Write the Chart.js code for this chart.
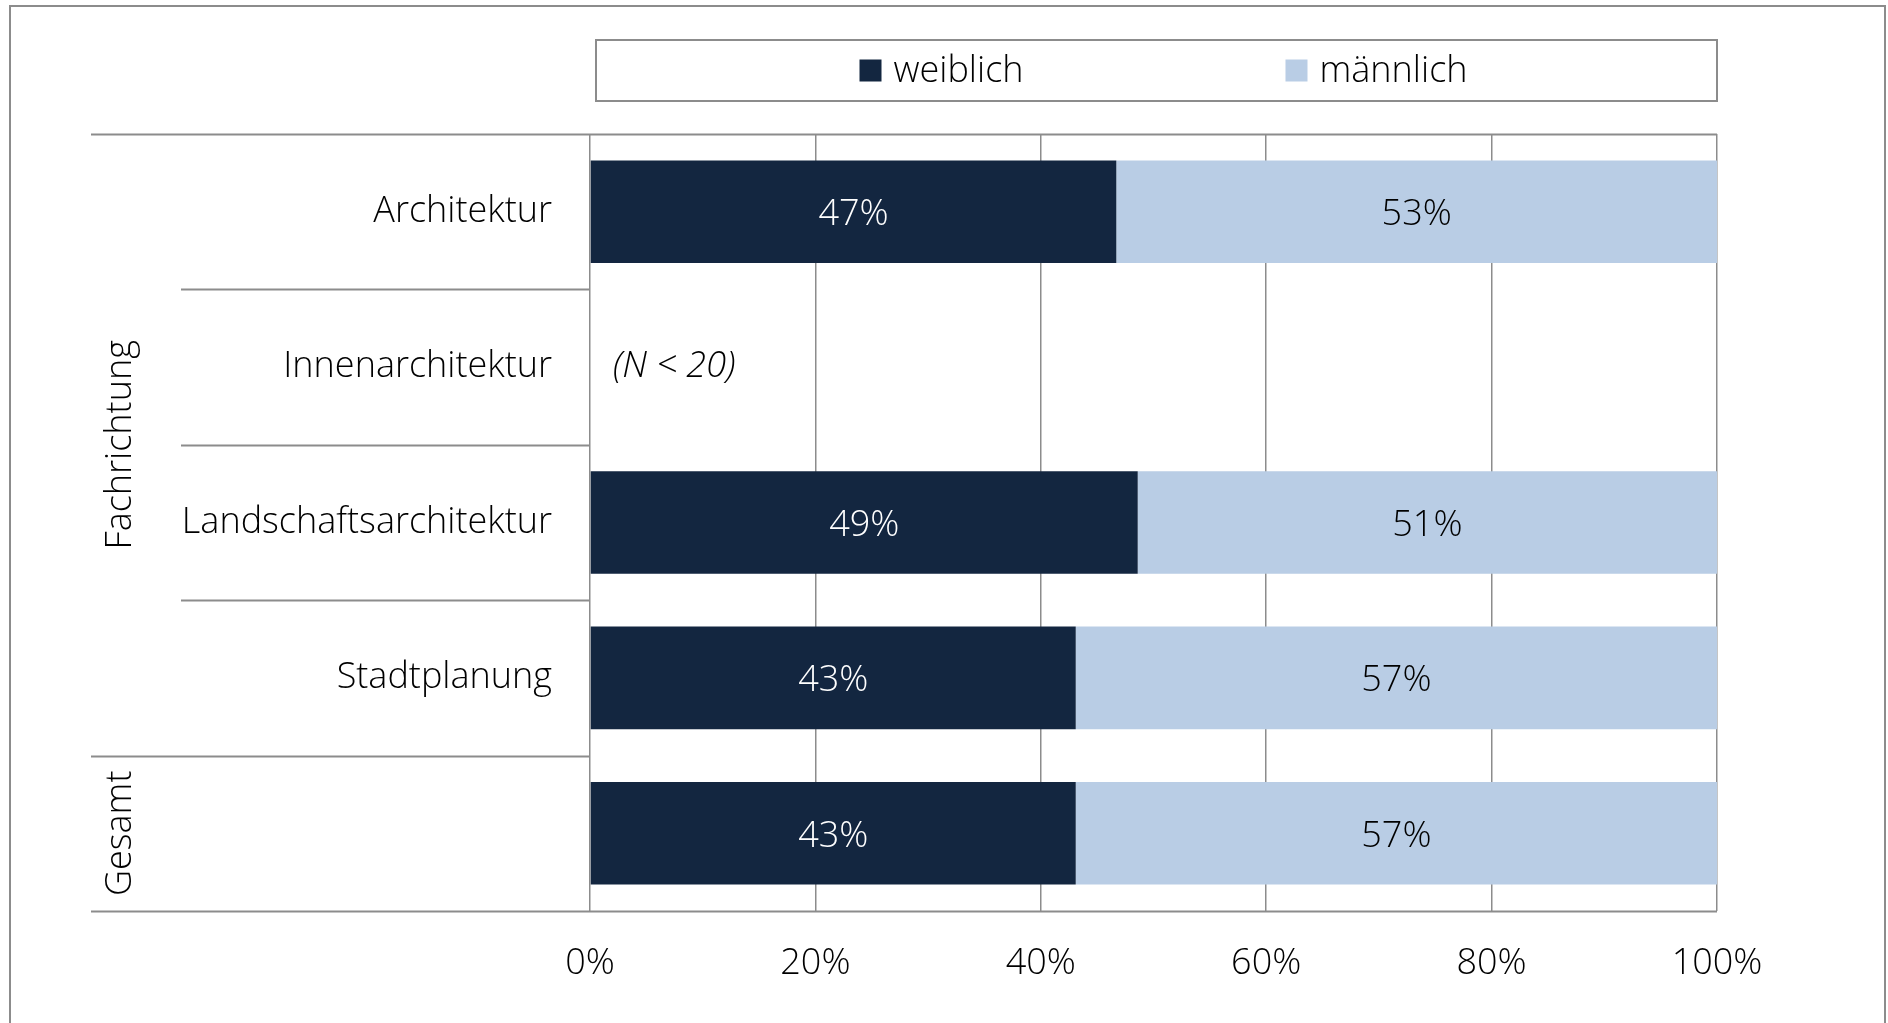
<!DOCTYPE html>
<html>
<head>
<meta charset="utf-8">
<script src="https://cdn.jsdelivr.net/npm/chart.js@4.4.1/dist/chart.umd.min.js"></script>
<style>
  html, body { margin: 0; padding: 0; background: #ffffff; }
  #wrap { width: 1888px; height: 1023px; }
</style>
</head>
<body>
<div id="wrap"><canvas id="barChart" width="1888" height="1023"></canvas></div>
<script>
// data
var categories = ['Architektur', 'Innenarchitektur', 'Landschaftsarchitektur', 'Stadtplanung', 'Gesamt'];
var groupLabels = ['Fachrichtung', 'Gesamt'];
var groupSizes = [4, 1];
var weiblich = [46.7, null, 48.6, 43.1, 43.1];
var maennlich = [53.3, null, 51.4, 56.9, 56.9];
var seriesNames = ['weiblich', 'männlich'];
var xTicks = [0, 20, 40, 60, 80, 100];
var noteText = '(N < 20)';

var fontFamily = "'Open Sans', 'Noto Sans', sans-serif";
var fontSize = 36;
var lineColor = '#8c8c8c';
var darkBlue = '#132640';
var lightBlue = '#b9cde5';

var decorPlugin = {
  id: 'decor',
  beforeDraw: function(chart) {
    var ctx = chart.ctx;
    ctx.save();
    ctx.fillStyle = '#ffffff';
    ctx.fillRect(0, 0, chart.width, chart.height);
    ctx.strokeStyle = lineColor;
    ctx.lineWidth = 2;
    ctx.strokeRect(10, 6, chart.width - 13, chart.height + 20);
    ctx.restore();
  },
  afterDraw: function(chart) {
    var ctx = chart.ctx;
    var area = chart.chartArea;
    var yScale = chart.scales.y;
    var xScale = chart.scales.x;
    var half = (yScale.getPixelForValue(1) - yScale.getPixelForValue(0)) / 2;
    ctx.save();

    // horizontal separators on the left side
    ctx.strokeStyle = lineColor;
    ctx.lineWidth = 2;
    var groupStarts = [];
    var idx = 0;
    groupSizes.forEach(function(n) { groupStarts.push(idx); idx += n; });
    for (var i = 0; i <= categories.length; i++) {
      var y = Math.round(yScale.getPixelForValue(i) - half) + 0.5;
      var isGroupEdge = groupStarts.indexOf(i) >= 0 || i === categories.length;
      var x0 = isGroupEdge ? 91 : 181;
      var x1 = (i === 0 || i === categories.length) ? area.right : area.left;
      ctx.beginPath();
      ctx.moveTo(x0, y);
      ctx.lineTo(x1, y);
      ctx.stroke();
    }

    // group labels, rotated
    ctx.fillStyle = '#000000';
    ctx.font = '300 ' + fontSize + 'px ' + fontFamily;
    ctx.textAlign = 'center';
    ctx.textBaseline = 'middle';
    groupLabels.forEach(function(lbl, g) {
      var first = groupStarts[g];
      var last = first + groupSizes[g] - 1;
      var cy = (yScale.getPixelForValue(first) + yScale.getPixelForValue(last)) / 2;
      ctx.save();
      ctx.translate(121, cy);
      ctx.rotate(-Math.PI / 2);
      ctx.fillText(lbl, 0, 0);
      ctx.restore();
    });

    // value labels inside the bars
    chart.data.datasets.forEach(function(ds, d) {
      var meta = chart.getDatasetMeta(d);
      meta.data.forEach(function(bar, j) {
        var v = ds.data[j];
        if (v === null || v === undefined) return;
        var cx = (bar.x + bar.base) / 2;
        ctx.fillStyle = d === 0 ? '#ffffff' : '#000000';
        ctx.fillText(Math.round(v) + '%', cx, bar.y + 3);
      });
    });

    // note for the row without data
    weiblich.forEach(function(v, j) {
      if (v === null) {
        ctx.font = 'italic 300 ' + fontSize + 'px ' + fontFamily;
        ctx.textAlign = 'left';
        ctx.fillStyle = '#000000';
        ctx.fillText(noteText, xScale.getPixelForValue(0) + 23, yScale.getPixelForValue(j));
      }
    });

    // legend in a framed box
    var boxL = area.left + 6, boxR = area.right, boxT = 40, boxB = 101;
    ctx.strokeStyle = lineColor;
    ctx.lineWidth = 2;
    ctx.strokeRect(boxL, boxT, boxR - boxL, boxB - boxT);
    ctx.font = '300 ' + fontSize + 'px ' + fontFamily;
    ctx.textAlign = 'left';
    var sw = 22, txtGap = 12, itemGap = 262;
    var widths = chart.data.datasets.map(function(ds) { return sw + txtGap + ctx.measureText(ds.label).width; });
    var total = widths.reduce(function(a, b) { return a + b; }, 0) + itemGap * (widths.length - 1);
    var lx = (boxL + boxR) / 2 + 7 - total / 2;
    var ly = (boxT + boxB) / 2;
    chart.data.datasets.forEach(function(ds, d) {
      ctx.fillStyle = ds.backgroundColor;
      ctx.fillRect(lx, ly - sw / 2, sw, sw);
      ctx.fillStyle = '#000000';
      ctx.fillText(ds.label, lx + sw + txtGap, ly + 1);
      lx += widths[d] + itemGap;
    });
    ctx.restore();
  }
};

var chart = new Chart(document.getElementById('barChart'), {
  type: 'bar',
  data: {
    labels: categories,
    datasets: [
      { label: seriesNames[0], data: weiblich, backgroundColor: darkBlue, borderWidth: 0 },
      { label: seriesNames[1], data: maennlich, backgroundColor: lightBlue, borderWidth: 0 }
    ]
  },
  options: {
    indexAxis: 'y',
    responsive: false,
    animation: false,
    devicePixelRatio: 1,
    barPercentage: 0.66,
    categoryPercentage: 1,
    layout: { padding: { left: 10, top: 134, right: 171, bottom: 0 } },
    plugins: {
      legend: { display: false },
      tooltip: { enabled: false }
    },
    scales: {
      x: {
        stacked: true,
        min: 0,
        max: 100,
        afterBuildTicks: function(scale) {
          scale.ticks = xTicks.map(function(v) { return { value: v }; });
        },
        afterFit: function(scale) { scale.height = 112; },
        grid: { color: lineColor, lineWidth: 1.5, drawTicks: false },
        border: { display: false },
        ticks: {
          padding: 31,
          color: '#000000',
          font: { family: fontFamily, size: fontSize, weight: '300' },
          callback: function(v) { return v + '%'; }
        }
      },
      y: {
        stacked: true,
        afterFit: function(scale) { scale.width = 580; },
        grid: { display: false },
        border: { display: false },
        ticks: {
          padding: 30,
          color: '#000000',
          font: { family: fontFamily, size: fontSize, weight: '300' },
          callback: function(v, i) { return i === categories.length - 1 ? '' : categories[i]; }
        }
      }
    }
  },
  plugins: [decorPlugin]
});
</script>
</body>
</html>
